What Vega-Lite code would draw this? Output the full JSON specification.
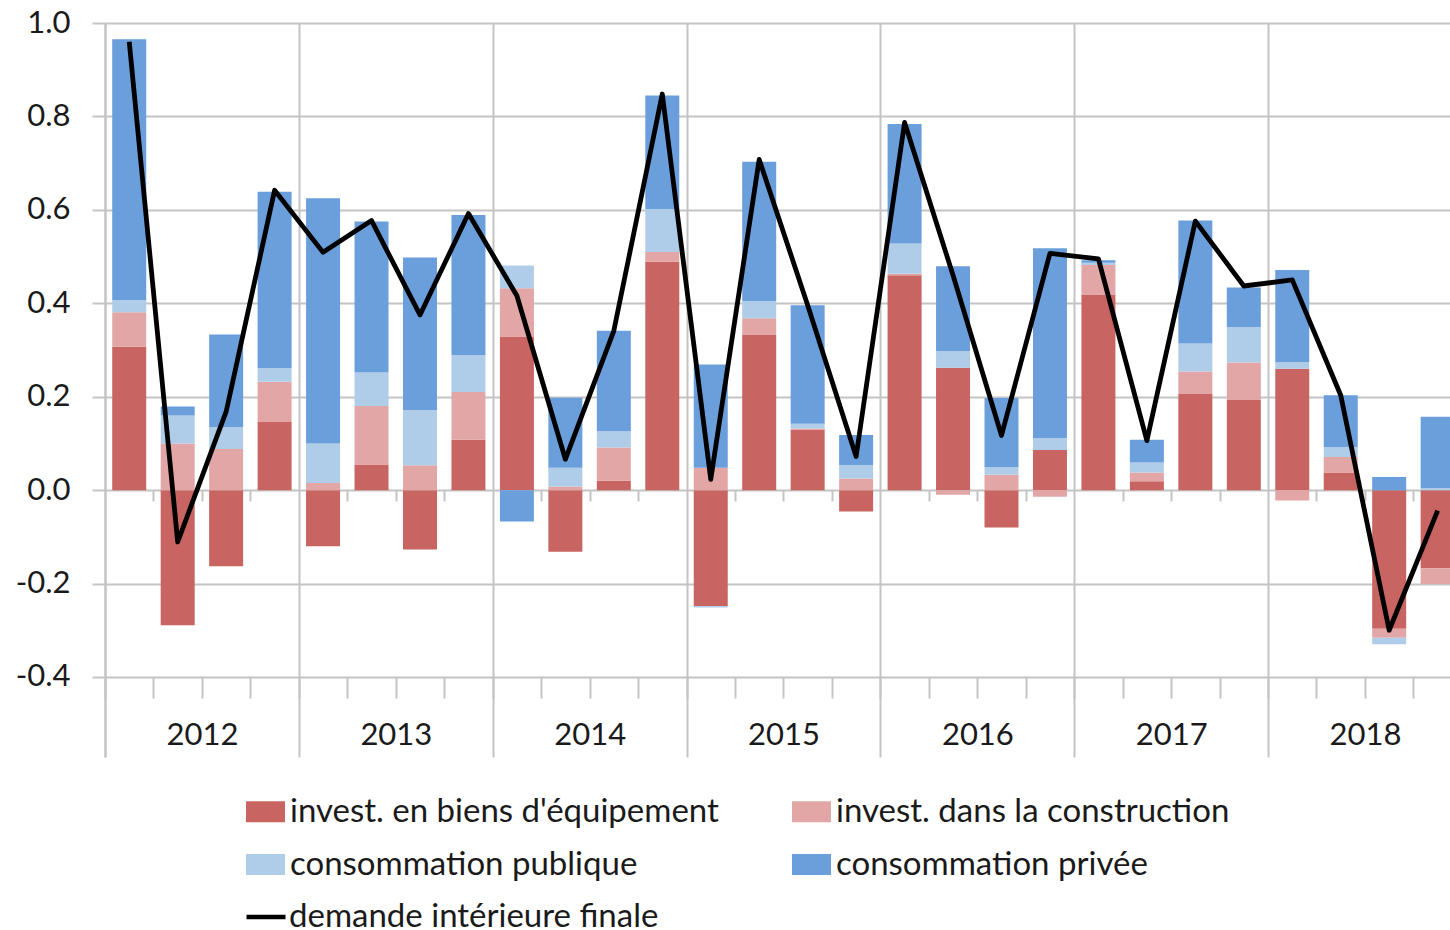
{
  "$schema": "https://vega.github.io/schema/vega-lite/v6.json",
  "width": 1345,
  "height": 734,
  "autosize": {"type": "none"},
  "padding": {"left": 105, "top": 23, "right": 0, "bottom": 173},
  "background": "white",
  "config": {
    "view": {"stroke": null},
    "font": "Lato",
    "axis": {"labelFont": "Lato", "labelFontSize": 31, "labelColor": "#1a1a1a"},
    "legend": {"labelFont": "Lato", "labelFontSize": 33, "labelColor": "#1a1a1a"}
  },
  "datasets": {
    "bars": [
      {"q": 0, "quarter": "2012 T1", "series": "invest. en biens d'équipement", "value": 0.307},
      {"q": 0, "quarter": "2012 T1", "series": "invest. dans la construction", "value": 0.074},
      {"q": 0, "quarter": "2012 T1", "series": "consommation publique", "value": 0.026},
      {"q": 0, "quarter": "2012 T1", "series": "consommation privée", "value": 0.558},
      {"q": 1, "quarter": "2012 T2", "series": "invest. en biens d'équipement", "value": -0.289},
      {"q": 1, "quarter": "2012 T2", "series": "invest. dans la construction", "value": 0.100},
      {"q": 1, "quarter": "2012 T2", "series": "consommation publique", "value": 0.060},
      {"q": 1, "quarter": "2012 T2", "series": "consommation privée", "value": 0.019},
      {"q": 2, "quarter": "2012 T3", "series": "invest. en biens d'équipement", "value": -0.163},
      {"q": 2, "quarter": "2012 T3", "series": "invest. dans la construction", "value": 0.088},
      {"q": 2, "quarter": "2012 T3", "series": "consommation publique", "value": 0.047},
      {"q": 2, "quarter": "2012 T3", "series": "consommation privée", "value": 0.198},
      {"q": 3, "quarter": "2012 T4", "series": "invest. en biens d'équipement", "value": 0.146},
      {"q": 3, "quarter": "2012 T4", "series": "invest. dans la construction", "value": 0.086},
      {"q": 3, "quarter": "2012 T4", "series": "consommation publique", "value": 0.029},
      {"q": 3, "quarter": "2012 T4", "series": "consommation privée", "value": 0.378},
      {"q": 4, "quarter": "2013 T1", "series": "invest. en biens d'équipement", "value": -0.120},
      {"q": 4, "quarter": "2013 T1", "series": "invest. dans la construction", "value": 0.015},
      {"q": 4, "quarter": "2013 T1", "series": "consommation publique", "value": 0.085},
      {"q": 4, "quarter": "2013 T1", "series": "consommation privée", "value": 0.525},
      {"q": 5, "quarter": "2013 T2", "series": "invest. en biens d'équipement", "value": 0.055},
      {"q": 5, "quarter": "2013 T2", "series": "invest. dans la construction", "value": 0.125},
      {"q": 5, "quarter": "2013 T2", "series": "consommation publique", "value": 0.072},
      {"q": 5, "quarter": "2013 T2", "series": "consommation privée", "value": 0.323},
      {"q": 6, "quarter": "2013 T3", "series": "invest. en biens d'équipement", "value": -0.127},
      {"q": 6, "quarter": "2013 T3", "series": "invest. dans la construction", "value": 0.053},
      {"q": 6, "quarter": "2013 T3", "series": "consommation publique", "value": 0.118},
      {"q": 6, "quarter": "2013 T3", "series": "consommation privée", "value": 0.327},
      {"q": 7, "quarter": "2013 T4", "series": "invest. en biens d'équipement", "value": 0.108},
      {"q": 7, "quarter": "2013 T4", "series": "invest. dans la construction", "value": 0.102},
      {"q": 7, "quarter": "2013 T4", "series": "consommation publique", "value": 0.079},
      {"q": 7, "quarter": "2013 T4", "series": "consommation privée", "value": 0.300},
      {"q": 8, "quarter": "2014 T1", "series": "invest. en biens d'équipement", "value": 0.329},
      {"q": 8, "quarter": "2014 T1", "series": "invest. dans la construction", "value": 0.103},
      {"q": 8, "quarter": "2014 T1", "series": "consommation publique", "value": 0.049},
      {"q": 8, "quarter": "2014 T1", "series": "consommation privée", "value": -0.067},
      {"q": 9, "quarter": "2014 T2", "series": "invest. en biens d'équipement", "value": -0.132},
      {"q": 9, "quarter": "2014 T2", "series": "invest. dans la construction", "value": 0.008},
      {"q": 9, "quarter": "2014 T2", "series": "consommation publique", "value": 0.040},
      {"q": 9, "quarter": "2014 T2", "series": "consommation privée", "value": 0.150},
      {"q": 10, "quarter": "2014 T3", "series": "invest. en biens d'équipement", "value": 0.020},
      {"q": 10, "quarter": "2014 T3", "series": "invest. dans la construction", "value": 0.071},
      {"q": 10, "quarter": "2014 T3", "series": "consommation publique", "value": 0.035},
      {"q": 10, "quarter": "2014 T3", "series": "consommation privée", "value": 0.215},
      {"q": 11, "quarter": "2014 T4", "series": "invest. en biens d'équipement", "value": 0.489},
      {"q": 11, "quarter": "2014 T4", "series": "invest. dans la construction", "value": 0.021},
      {"q": 11, "quarter": "2014 T4", "series": "consommation publique", "value": 0.092},
      {"q": 11, "quarter": "2014 T4", "series": "consommation privée", "value": 0.243},
      {"q": 12, "quarter": "2015 T1", "series": "invest. en biens d'équipement", "value": -0.248},
      {"q": 12, "quarter": "2015 T1", "series": "invest. dans la construction", "value": 0.048},
      {"q": 12, "quarter": "2015 T1", "series": "consommation publique", "value": -0.003},
      {"q": 12, "quarter": "2015 T1", "series": "consommation privée", "value": 0.221},
      {"q": 13, "quarter": "2015 T2", "series": "invest. en biens d'équipement", "value": 0.332},
      {"q": 13, "quarter": "2015 T2", "series": "invest. dans la construction", "value": 0.036},
      {"q": 13, "quarter": "2015 T2", "series": "consommation publique", "value": 0.037},
      {"q": 13, "quarter": "2015 T2", "series": "consommation privée", "value": 0.298},
      {"q": 14, "quarter": "2015 T3", "series": "invest. en biens d'équipement", "value": 0.130},
      {"q": 14, "quarter": "2015 T3", "series": "invest. dans la construction", "value": 0.002},
      {"q": 14, "quarter": "2015 T3", "series": "consommation publique", "value": 0.010},
      {"q": 14, "quarter": "2015 T3", "series": "consommation privée", "value": 0.254},
      {"q": 15, "quarter": "2015 T4", "series": "invest. en biens d'équipement", "value": -0.046},
      {"q": 15, "quarter": "2015 T4", "series": "invest. dans la construction", "value": 0.025},
      {"q": 15, "quarter": "2015 T4", "series": "consommation publique", "value": 0.029},
      {"q": 15, "quarter": "2015 T4", "series": "consommation privée", "value": 0.064},
      {"q": 16, "quarter": "2016 T1", "series": "invest. en biens d'équipement", "value": 0.460},
      {"q": 16, "quarter": "2016 T1", "series": "invest. dans la construction", "value": 0.003},
      {"q": 16, "quarter": "2016 T1", "series": "consommation publique", "value": 0.065},
      {"q": 16, "quarter": "2016 T1", "series": "consommation privée", "value": 0.256},
      {"q": 17, "quarter": "2016 T2", "series": "invest. en biens d'équipement", "value": 0.262},
      {"q": 17, "quarter": "2016 T2", "series": "invest. dans la construction", "value": -0.010},
      {"q": 17, "quarter": "2016 T2", "series": "consommation publique", "value": 0.036},
      {"q": 17, "quarter": "2016 T2", "series": "consommation privée", "value": 0.181},
      {"q": 18, "quarter": "2016 T3", "series": "invest. en biens d'équipement", "value": -0.080},
      {"q": 18, "quarter": "2016 T3", "series": "invest. dans la construction", "value": 0.033},
      {"q": 18, "quarter": "2016 T3", "series": "consommation publique", "value": 0.016},
      {"q": 18, "quarter": "2016 T3", "series": "consommation privée", "value": 0.148},
      {"q": 19, "quarter": "2016 T4", "series": "invest. en biens d'équipement", "value": 0.086},
      {"q": 19, "quarter": "2016 T4", "series": "invest. dans la construction", "value": -0.014},
      {"q": 19, "quarter": "2016 T4", "series": "consommation publique", "value": 0.025},
      {"q": 19, "quarter": "2016 T4", "series": "consommation privée", "value": 0.407},
      {"q": 20, "quarter": "2017 T1", "series": "invest. en biens d'équipement", "value": 0.419},
      {"q": 20, "quarter": "2017 T1", "series": "invest. dans la construction", "value": 0.063},
      {"q": 20, "quarter": "2017 T1", "series": "consommation publique", "value": 0.005},
      {"q": 20, "quarter": "2017 T1", "series": "consommation privée", "value": 0.005},
      {"q": 21, "quarter": "2017 T2", "series": "invest. en biens d'équipement", "value": 0.019},
      {"q": 21, "quarter": "2017 T2", "series": "invest. dans la construction", "value": 0.019},
      {"q": 21, "quarter": "2017 T2", "series": "consommation publique", "value": 0.021},
      {"q": 21, "quarter": "2017 T2", "series": "consommation privée", "value": 0.049},
      {"q": 22, "quarter": "2017 T3", "series": "invest. en biens d'équipement", "value": 0.206},
      {"q": 22, "quarter": "2017 T3", "series": "invest. dans la construction", "value": 0.048},
      {"q": 22, "quarter": "2017 T3", "series": "consommation publique", "value": 0.060},
      {"q": 22, "quarter": "2017 T3", "series": "consommation privée", "value": 0.263},
      {"q": 23, "quarter": "2017 T4", "series": "invest. en biens d'équipement", "value": 0.193},
      {"q": 23, "quarter": "2017 T4", "series": "invest. dans la construction", "value": 0.080},
      {"q": 23, "quarter": "2017 T4", "series": "consommation publique", "value": 0.076},
      {"q": 23, "quarter": "2017 T4", "series": "consommation privée", "value": 0.085},
      {"q": 24, "quarter": "2018 T1", "series": "invest. en biens d'équipement", "value": 0.260},
      {"q": 24, "quarter": "2018 T1", "series": "invest. dans la construction", "value": -0.022},
      {"q": 24, "quarter": "2018 T1", "series": "consommation publique", "value": 0.014},
      {"q": 24, "quarter": "2018 T1", "series": "consommation privée", "value": 0.197},
      {"q": 25, "quarter": "2018 T2", "series": "invest. en biens d'équipement", "value": 0.038},
      {"q": 25, "quarter": "2018 T2", "series": "invest. dans la construction", "value": 0.033},
      {"q": 25, "quarter": "2018 T2", "series": "consommation publique", "value": 0.021},
      {"q": 25, "quarter": "2018 T2", "series": "consommation privée", "value": 0.111},
      {"q": 26, "quarter": "2018 T3", "series": "invest. en biens d'équipement", "value": -0.297},
      {"q": 26, "quarter": "2018 T3", "series": "invest. dans la construction", "value": -0.019},
      {"q": 26, "quarter": "2018 T3", "series": "consommation publique", "value": -0.014},
      {"q": 26, "quarter": "2018 T3", "series": "consommation privée", "value": 0.028},
      {"q": 27, "quarter": "2018 T4", "series": "invest. en biens d'équipement", "value": -0.167},
      {"q": 27, "quarter": "2018 T4", "series": "invest. dans la construction", "value": -0.034},
      {"q": 27, "quarter": "2018 T4", "series": "consommation publique", "value": 0.004},
      {"q": 27, "quarter": "2018 T4", "series": "consommation privée", "value": 0.153}
    ],
    "line": [
      {"q": 0, "quarter": "2012 T1", "value": 0.960},
      {"q": 1, "quarter": "2012 T2", "value": -0.111},
      {"q": 2, "quarter": "2012 T3", "value": 0.168},
      {"q": 3, "quarter": "2012 T4", "value": 0.642},
      {"q": 4, "quarter": "2013 T1", "value": 0.509},
      {"q": 5, "quarter": "2013 T2", "value": 0.577},
      {"q": 6, "quarter": "2013 T3", "value": 0.375},
      {"q": 7, "quarter": "2013 T4", "value": 0.592},
      {"q": 8, "quarter": "2014 T1", "value": 0.416},
      {"q": 9, "quarter": "2014 T2", "value": 0.066},
      {"q": 10, "quarter": "2014 T3", "value": 0.341},
      {"q": 11, "quarter": "2014 T4", "value": 0.848},
      {"q": 12, "quarter": "2015 T1", "value": 0.023},
      {"q": 13, "quarter": "2015 T2", "value": 0.708},
      {"q": 14, "quarter": "2015 T3", "value": 0.396},
      {"q": 15, "quarter": "2015 T4", "value": 0.072},
      {"q": 16, "quarter": "2016 T1", "value": 0.787},
      {"q": 17, "quarter": "2016 T2", "value": 0.460},
      {"q": 18, "quarter": "2016 T3", "value": 0.117},
      {"q": 19, "quarter": "2016 T4", "value": 0.507},
      {"q": 20, "quarter": "2017 T1", "value": 0.495},
      {"q": 21, "quarter": "2017 T2", "value": 0.106},
      {"q": 22, "quarter": "2017 T3", "value": 0.576},
      {"q": 23, "quarter": "2017 T4", "value": 0.437},
      {"q": 24, "quarter": "2018 T1", "value": 0.450},
      {"q": 25, "quarter": "2018 T2", "value": 0.203},
      {"q": 26, "quarter": "2018 T3", "value": -0.300},
      {"q": 27, "quarter": "2018 T4", "value": -0.044}
    ]
  },
  "layer": [
    {
      "data": {"name": "bars"},
      "mark": {"type": "bar", "width": 34},
      "encoding": {
        "x": {
          "field": "q",
          "type": "quantitative",
          "scale": {"domain": [-0.5, 27.255], "nice": false, "zero": false, "padding": 0},
          "axis": {
            "orient": "bottom",
            "offset": -80,
            "title": null,
            "values": [-0.5, 0.5, 1.5, 2.5, 3.5, 4.5, 5.5, 6.5, 7.5, 8.5, 9.5, 10.5, 11.5, 12.5, 13.5, 14.5, 15.5, 16.5, 17.5, 18.5, 19.5, 20.5, 21.5, 22.5, 23.5, 24.5, 25.5, 26.5],
            "domain": false,
            "ticks": true,
            "tickSize": 21,
            "tickColor": "#c4c4c4",
            "tickWidth": 2,
            "grid": true,
            "gridWidth": 2,
            "gridColor": {"condition": {"test": "(datum.value + 0.5) % 4 == 0", "value": "#c4c4c4"}, "value": "transparent"},
            "labelExpr": "(datum.value + 0.5) % 4 == 0 ? toString(2012 + (datum.value + 0.5) / 4) : ''",
            "labelOffset": 97,
            "labelPadding": 22,
            "labelFlush": false,
            "labelOverlap": false,
            "labelBound": false,
            "labelAlign": "center"
          }
        },
        "y": {
          "field": "value",
          "type": "quantitative",
          "stack": "zero",
          "scale": {"domain": [-0.5713, 1.0], "nice": false, "zero": false, "padding": 0},
          "axis": {
            "title": null,
            "values": [-0.4, -0.2, 0, 0.2, 0.4, 0.6, 0.8, 1.0],
            "labelExpr": "(datum.value < -0.0001 ? '-' : '') + format(abs(datum.value), '.1f')",
            "domain": true,
            "domainColor": "#c4c4c4",
            "domainWidth": 2,
            "ticks": true,
            "tickSize": 13,
            "tickColor": "#c4c4c4",
            "tickWidth": 2,
            "grid": true,
            "gridColor": "#c4c4c4",
            "gridWidth": 2,
            "labelPadding": 22
          }
        },
        "color": {
          "field": "series",
          "type": "nominal",
          "scale": {
            "domain": ["invest. en biens d'équipement", "invest. dans la construction", "consommation publique", "consommation privée"],
            "range": ["#C86461", "#E1A6A5", "#AFCCE9", "#6B9FDB"]
          },
          "legend": {
            "orient": "none",
            "direction": "horizontal",
            "legendX": 141,
            "legendY": 769,
            "title": null,
            "columns": 2,
            "columnPadding": 73,
            "rowPadding": 16,
            "padding": 0,
            "symbolType": "M-1,-0.54H1V0.54H-1Z",
            "symbolSize": 1521,
            "symbolStrokeWidth": 0,
            "symbolOpacity": 1,
            "labelOffset": 5,
            "labelLimit": 800
          }
        },
        "order": {"field": "series", "sort": "descending"}
      }
    },
    {
      "data": {"name": "line"},
      "mark": {"type": "line", "strokeWidth": 4.8, "strokeJoin": "round"},
      "encoding": {
        "x": {
          "field": "q",
          "type": "quantitative",
          "axis": {
            "orient": "bottom",
            "offset": -267,
            "title": null,
            "values": [0.5, 1.5, 2.5, 4.5, 5.5, 6.5, 8.5, 9.5, 10.5, 12.5, 13.5, 14.5, 16.5, 17.5, 18.5, 20.5, 21.5, 22.5, 24.5, 25.5, 26.5],
            "domain": false,
            "grid": false,
            "labels": false,
            "ticks": true,
            "tickSize": 11,
            "tickColor": "#c4c4c4",
            "tickWidth": 2
          }
        },
        "y": {"field": "value", "type": "quantitative"},
        "stroke": {
          "datum": "demande intérieure finale",
          "type": "nominal",
          "scale": {"range": ["#000000"]},
          "legend": {
            "orient": "none",
            "legendX": 139,
            "legendY": 872,
            "title": null,
            "padding": 0,
            "symbolType": "stroke",
            "symbolSize": 1521,
            "symbolStrokeWidth": 4.5,
            "labelOffset": 1,
            "labelLimit": 800
          }
        }
      }
    }
  ],
  "resolve": {"axis": {"x": "independent"}}
}
